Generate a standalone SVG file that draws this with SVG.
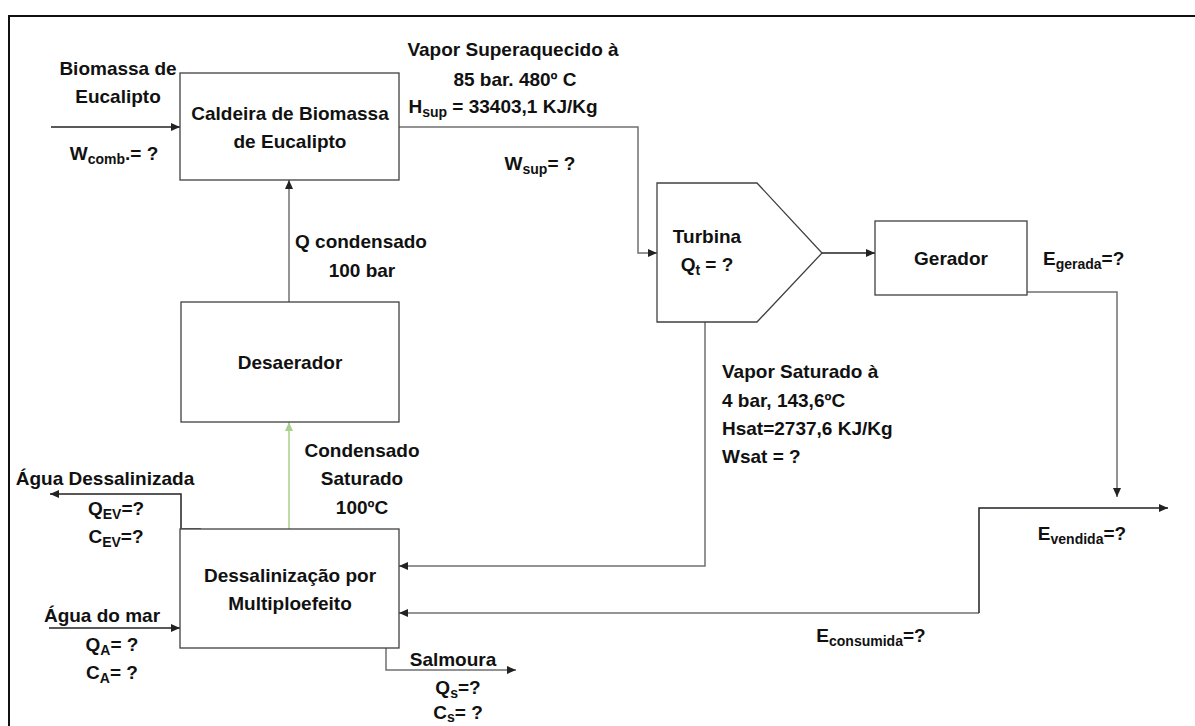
<svg xmlns="http://www.w3.org/2000/svg" width="1195" height="726" viewBox="0 0 1195 726">
<style>
  text { font-family: "Liberation Sans", Arial, sans-serif; font-weight: bold; font-size: 19px; fill: #111; }
  .c { text-anchor: middle; }
  .sub { font-size: 14px; }
  .box { fill: #fff; stroke: #404040; stroke-width: 1.3; }
  .con { fill: none; stroke: #707070; stroke-width: 1.5; }
  .dark { stroke: #222; }
  .green { stroke: #a9d18e; }
  .frame { fill: none; stroke: #111; stroke-width: 2; }
</style>
<defs>
  <marker id="ah" markerUnits="userSpaceOnUse" markerWidth="10" markerHeight="8" refX="9" refY="4" orient="auto">
    <path d="M0,0 L9,4 L0,8 z" fill="#222"/>
  </marker>
  <marker id="ahg" markerUnits="userSpaceOnUse" markerWidth="10" markerHeight="8" refX="9" refY="4" orient="auto">
    <path d="M0,0 L9,4 L0,8 z" fill="#a9d18e"/>
  </marker>
</defs>
<rect width="1195" height="726" fill="#fff"/>
<path class="frame" d="M9,726 V16 H1195"/>

<g id="connectors">
  <path class="con dark" d="M51,127 H180" marker-end="url(#ah)"/>
  <path class="con" d="M399,127 H638 V253 H657" marker-end="url(#ah)"/>
  <path class="con" d="M289,302 V180" marker-end="url(#ah)"/>
  <path class="con green" d="M289,529 V422" marker-end="url(#ahg)"/>
  <path class="con dark" d="M822,253 H875" marker-end="url(#ah)"/>
  <path class="con" d="M705,322 V566 H399" marker-end="url(#ah)"/>
  <path class="con" d="M1027,292 H1117 V497" marker-end="url(#ah)"/>
  <path class="con" d="M979,613 H399" marker-end="url(#ah)"/>
  <path class="con dark" d="M979,613 V508 H1168" marker-end="url(#ah)"/>
  <path class="con dark" d="M181,529 V494 H50" marker-end="url(#ah)"/>
  <path class="con" d="M181,529 H201" style="stroke-width:2"/>
  <path class="con dark" d="M49,628 H180" marker-end="url(#ah)"/>
  <path class="con" d="M386,648 V670 H516" marker-end="url(#ah)"/>
</g>

<g id="caldeira">
  <rect class="box" x="180" y="73" width="219" height="107"/>
  <text class="c" x="290" y="120">Caldeira de Biomassa</text>
  <text class="c" x="290" y="148">de Eucalipto</text>
</g>

<g id="desaerador">
  <rect class="box" x="181" y="302" width="218" height="120"/>
  <text class="c" x="290" y="369">Desaerador</text>
</g>

<g id="dessalinizacao">
  <rect class="box" x="180" y="529" width="219" height="119"/>
  <text class="c" x="290" y="582">Dessalinização por</text>
  <text class="c" x="290" y="610">Multiploefeito</text>
</g>

<g id="turbina">
  <path class="box" d="M657,183 H757 L822,253 L757,322 H657 Z"/>
  <text class="c" x="707" y="243">Turbina</text>
  <text class="c" x="707" y="271">Q<tspan class="sub" dy="4">t</tspan><tspan dy="-4"> = ?</tspan></text>
</g>

<g id="gerador">
  <rect class="box" x="875" y="221" width="152" height="74"/>
  <text class="c" x="951" y="265">Gerador</text>
</g>

<g id="labels">
  <text class="c" x="118" y="75">Biomassa de</text>
  <text class="c" x="118" y="103">Eucalipto</text>
  <text class="c" x="114" y="160">W<tspan class="sub" dy="4">comb</tspan><tspan dy="-4">.= ?</tspan></text>

  <text class="c" x="513" y="56">Vapor Superaquecido à</text>
  <text class="c" x="515" y="86">85 bar. 480º C</text>
  <text class="c" x="503" y="113">H<tspan class="sub" dy="4">sup</tspan><tspan dy="-4"> = 33403,1 KJ/Kg</tspan></text>
  <text class="c" x="540" y="170">W<tspan class="sub" dy="4">sup</tspan><tspan dy="-4">= ?</tspan></text>

  <text class="c" x="361" y="248">Q condensado</text>
  <text class="c" x="362" y="277">100 bar</text>

  <text x="1043" y="265">E<tspan class="sub" dy="4">gerada</tspan><tspan dy="-4">=?</tspan></text>

  <text x="722" y="378">Vapor Saturado à</text>
  <text x="722" y="407">4 bar, 143,6ºC</text>
  <text x="722" y="435">Hsat=2737,6 KJ/Kg</text>
  <text x="722" y="463">Wsat = ?</text>

  <text class="c" x="362" y="457">Condensado</text>
  <text class="c" x="362" y="485">Saturado</text>
  <text class="c" x="362" y="514">100ºC</text>

  <text class="c" x="105" y="485">Água Dessalinizada</text>
  <text class="c" x="116" y="515">Q<tspan class="sub" dy="4">EV</tspan><tspan dy="-4">=?</tspan></text>
  <text class="c" x="116" y="543">C<tspan class="sub" dy="4">EV</tspan><tspan dy="-4">=?</tspan></text>

  <text class="c" x="102" y="622">Água do mar</text>
  <text class="c" x="112" y="651">Q<tspan class="sub" dy="4">A</tspan><tspan dy="-4">= ?</tspan></text>
  <text class="c" x="112" y="679">C<tspan class="sub" dy="4">A</tspan><tspan dy="-4">= ?</tspan></text>

  <text class="c" x="453" y="666">Salmoura</text>
  <text class="c" x="458" y="694">Q<tspan class="sub" dy="4">s</tspan><tspan dy="-4">=?</tspan></text>
  <text class="c" x="458" y="719">C<tspan class="sub" dy="3">s</tspan><tspan dy="-3">= ?</tspan></text>

  <text class="c" x="1082" y="540">E<tspan class="sub" dy="4">vendida</tspan><tspan dy="-4">=?</tspan></text>
  <text class="c" x="871" y="642">E<tspan class="sub" dy="4">consumida</tspan><tspan dy="-4">=?</tspan></text>
</g>
</svg>
